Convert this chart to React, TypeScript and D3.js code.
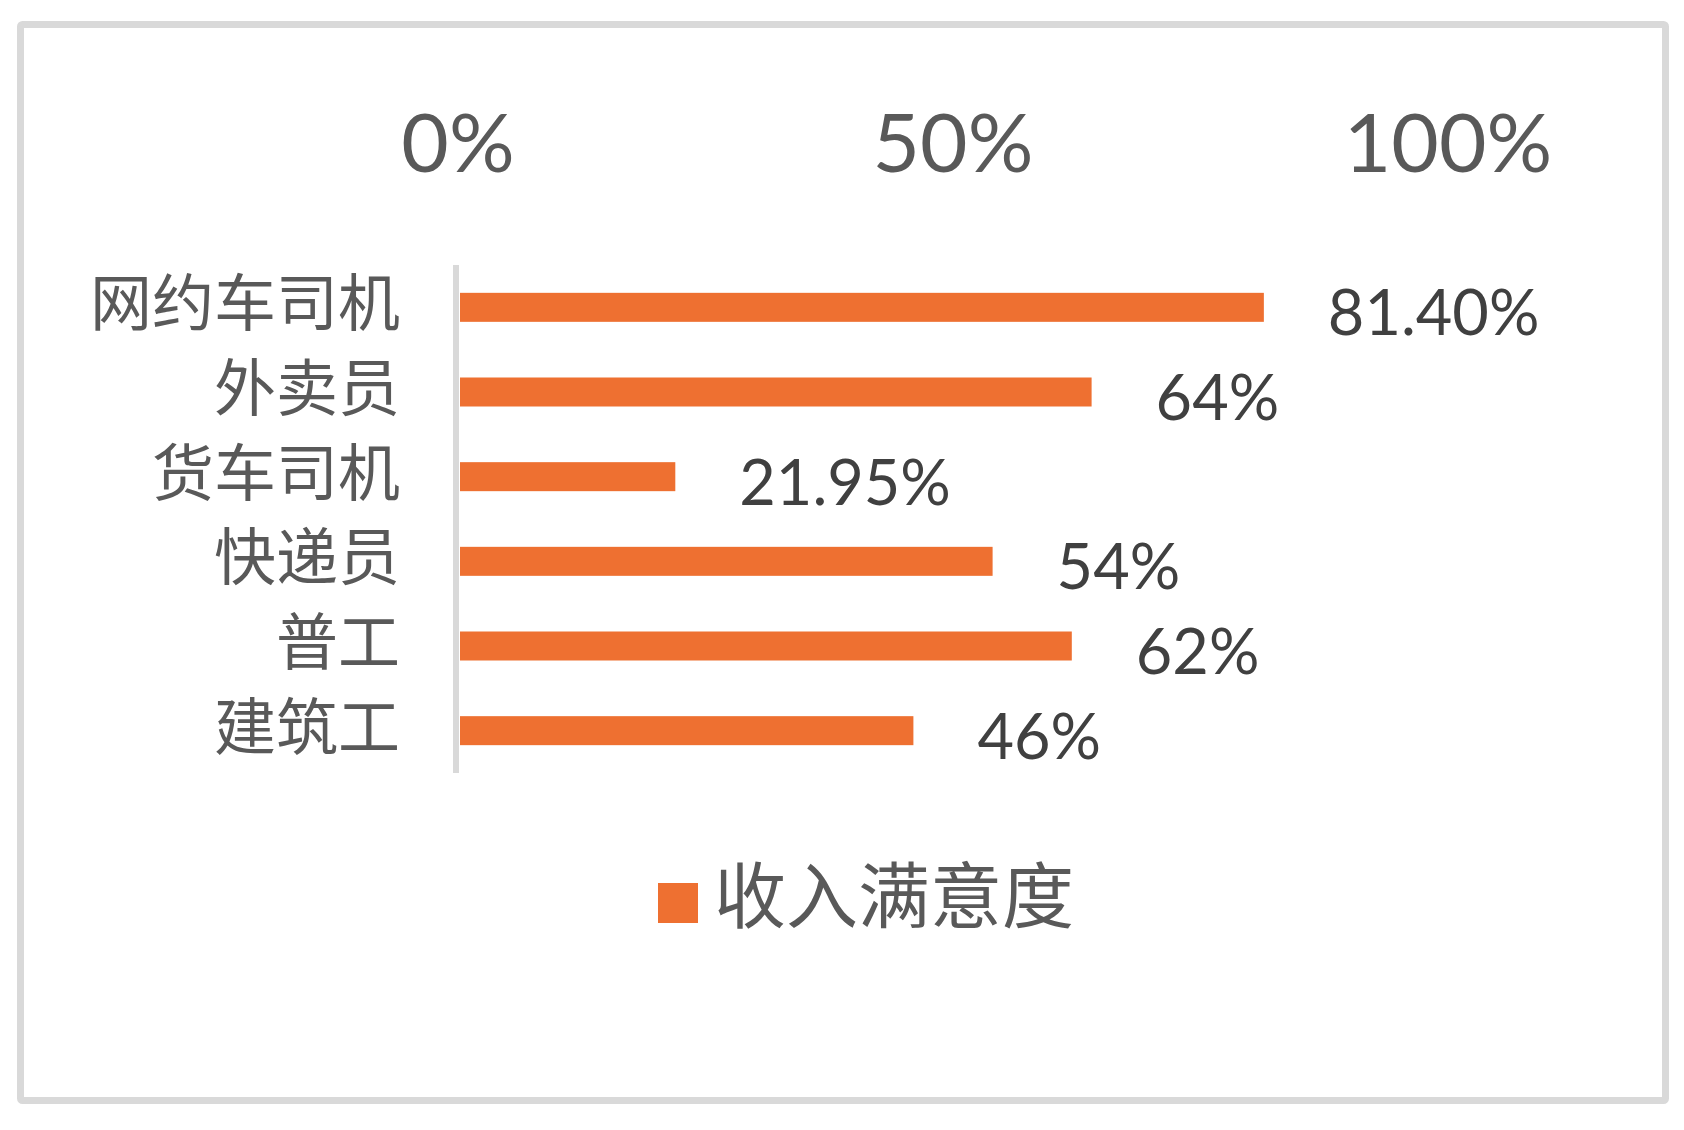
import React from "react";
import * as d3 from "d3";

const categories = ["网约车司机", "外卖员", "货车司机", "快递员", "普工", "建筑工"];
const values = [81.4, 64, 21.95, 54, 62, 46];
const valueLabels = ["81.40%", "64%", "21.95%", "54%", "62%", "46%"];
const ticks = [0, 50, 100];
const seriesName = "收入满意度";

const W = 1684;
const H = 1130;
const ORANGE = "#EE7031";
const GRID = "#D9D9D9";
const FONT = "Lato, 'Noto Sans CJK SC', sans-serif";
const CJK = "'Noto Sans CJK SC', sans-serif";

export default function App() {
  const x = d3.scaleLinear().domain([0, 100]).range([458, 1448]);
  const y = d3.scaleBand<string>().domain(categories).range([265, 773]).padding(0);
  const barH = 29;

  return (
    <svg
      width={W}
      height={H}
      style={{ position: "absolute", left: 0, top: 0, background: "#fff" }}
    >
      <rect x={0} y={0} width={W} height={H} fill="#fff" />
      <rect
        x={20.5}
        y={24.5}
        width={1645}
        height={1076}
        rx={2}
        fill="#fff"
        stroke={GRID}
        strokeWidth={7}
      />
      {ticks.map((t) => (
        <text
          key={t}
          x={x(t)}
          y={172}
          textAnchor="middle"
          fontFamily={FONT}
          fontSize={82}
          fill="#595959"
        >
          {t}%
        </text>
      ))}
      {categories.map((c, i) => {
        const cy = (y(c) as number) + y.bandwidth() / 2;
        return (
          <g key={c}>
            <rect
              x={x(0) + 2}
              y={cy - barH / 2}
              width={x(values[i]) - x(0) - 2}
              height={barH}
              fill={ORANGE}
            />
            <text
              x={400}
              y={cy - 8}
              textAnchor="end"
              dominantBaseline="central"
              fontFamily={CJK}
              fontSize={62}
              fill="#595959"
            >
              {c}
            </text>
            <text
              x={x(values[i]) + 64}
              y={cy + 28}
              textAnchor="start"
              fontFamily={FONT}
              fontSize={63}
              fill="#404040"
            >
              {valueLabels[i]}
            </text>
          </g>
        );
      })}
      <line x1={456} x2={456} y1={265} y2={773} stroke={GRID} strokeWidth={6} />
      <rect x={658} y={883} width={40} height={40} fill={ORANGE} />
      <text
        x={714}
        y={890}
        dominantBaseline="central"
        fontFamily={CJK}
        fontSize={72}
        fill="#595959"
      >
        {seriesName}
      </text>
    </svg>
  );
}
